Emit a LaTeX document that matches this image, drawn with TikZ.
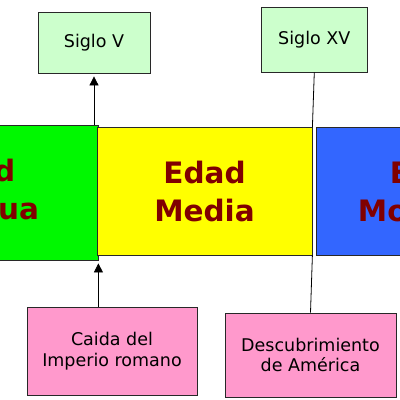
\documentclass[tikz,border=0pt]{standalone}
\usepackage{fontspec}
\setmainfont{DejaVu Sans}
\usetikzlibrary{arrows.meta}
\definecolor{bigGreen}{RGB}{0,248,0}
\definecolor{bigYellow}{RGB}{255,255,0}
\definecolor{bigBlue}{RGB}{51,102,255}
\definecolor{paleGreen}{RGB}{204,255,204}
\definecolor{pinkFill}{RGB}{255,153,204}
\definecolor{darkRed}{RGB}{128,0,0}
\definecolor{edge}{RGB}{40,40,40}
\tikzset{
  era/.style={draw=edge, line width=0.8pt, inner sep=0pt, align=center,
    text=darkRed, font=\fontsize{29.5}{38}\selectfont\bfseries},
  century/.style={draw=edge, line width=0.8pt, fill=paleGreen, inner sep=0pt,
    align=center, font=\fontsize{17.5}{20.5}\selectfont},
  event/.style={draw=edge, line width=0.8pt, fill=pinkFill, inner sep=0pt,
    align=center, font=\fontsize{17.5}{20.5}\selectfont},
  link/.style={draw=black, line width=0.8pt},
  arrowlink/.style={link, -{Triangle[length=9pt,width=9pt]}, shorten >=3pt}
}
\begin{document}
\begin{tikzpicture}[x=1pt,y=-1pt]
\useasboundingbox (0,0) rectangle (400,400);
\clip (0,0) rectangle (400,400);
\fill[white] (0,0) rectangle (400,400);
% era boxes
\node[era, fill=bigGreen, minimum width=248pt, minimum height=135pt] (antigua) at (-26,192.5) {Edad\\Antigua};
\node[era, fill=bigYellow, minimum width=215pt, minimum height=127.3pt] (media) at (204.5,191.3) {Edad\\Media};
\node[era, fill=bigBlue, minimum width=230pt, minimum height=127.3pt] (moderna) at (431,191.3) {Edad\\Moderna};
% century boxes
\node[century, minimum width=112pt, minimum height=61pt] (sigloV) at (94,42.5) {Siglo V};
\node[century, minimum width=106.7pt, minimum height=65pt] (sigloXV) at (314.3,39.5) {Siglo XV};
% event boxes
\node[event, minimum width=170pt, minimum height=87.3pt] (caida) at (112,351.3) {Caida del\\Imperio romano};
\node[event, minimum width=171pt, minimum height=84pt] (descub) at (310.5,355) {Descubrimiento\\de América};
% connectors
\draw[arrowlink] (sigloV.south |- antigua.north) -- (sigloV.south);
\draw[arrowlink] (antigua.south east |- caida.north) -- (antigua.south east);
\draw[link] (sigloXV.south) -- (media.north east);
\draw[link] (media.south east) -- (descub.north);
\end{tikzpicture}
\end{document}
